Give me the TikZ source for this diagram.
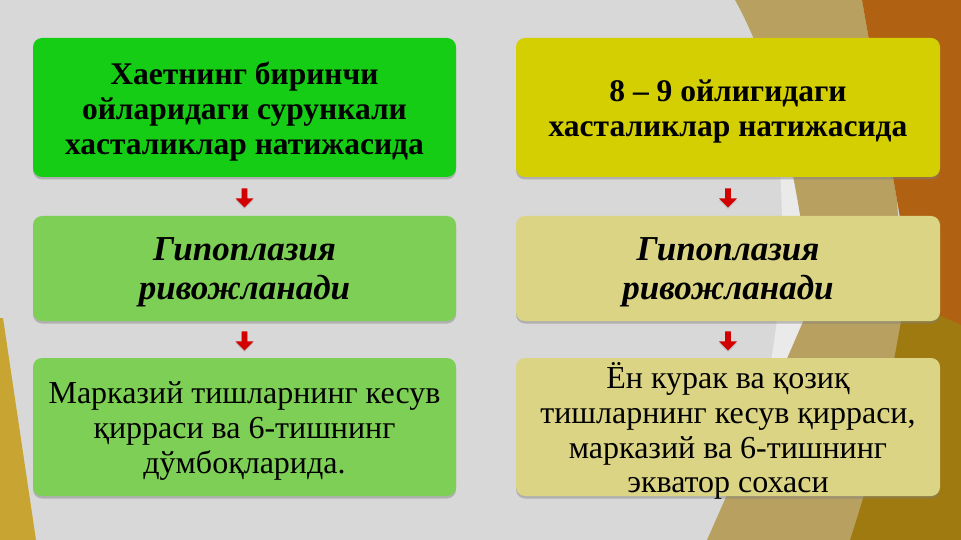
\documentclass[tikz,border=0pt]{standalone}
\usepackage{fontspec}
\setmainfont{Liberation Serif}
\usetikzlibrary{shadows,shapes.arrows,calc}
\definecolor{bgc}{RGB}{216,216,216}
\definecolor{greenA}{RGB}{22,205,22}
\definecolor{greenB}{RGB}{126,207,86}
\definecolor{yelA}{RGB}{212,207,2}
\definecolor{yelB}{RGB}{218,212,132}
\definecolor{tanc}{RGB}{184,160,96}
\definecolor{orangec}{RGB}{176,98,18}
\definecolor{goldc}{RGB}{158,122,16}
\definecolor{leftgold}{RGB}{200,164,50}
\definecolor{arrred}{RGB}{210,0,0}
\tikzset{
  box/.style={rounded corners=9pt, inner sep=0pt,
    drop shadow={shadow xshift=0pt, shadow yshift=-2.5pt, opacity=0.45}},
  lbl/.style={inner sep=0pt, align=center, text=black, yshift=-4pt},
  toptext/.style={font=\fontsize{31.5}{34.8}\selectfont\bfseries},
  midtext/.style={font=\fontsize{35}{39.5}\selectfont\bfseries\itshape},
  bottext/.style={font=\fontsize{32}{34.8}\selectfont},
  redarrow/.style={single arrow, fill=arrred, draw=none, rotate=-90,
    minimum height=19pt, minimum width=18pt, single arrow head extend=4.5pt,
    single arrow head indent=0pt, inner sep=2pt,
    drop shadow={shadow xshift=0pt, shadow yshift=-1.5pt, opacity=0.35}}
}
\begin{document}
\begin{tikzpicture}[x=1pt,y=-1pt]
\path[use as bounding box] (0,0) rectangle (961,540);
\fill[bgc] (0,0) rectangle (961,540);
% right decoration
\fill[white!45!bgc] (760,0) -- (800,0) .. controls (840,200) and (860,330) .. (800,540) -- (720,540) .. controls (800,330) and (790,200) .. (760,0) -- cycle;
\fill[tanc] (735,0) -- (862,0) -- (897,200) -- (905,330) -- (880,540) -- (707,540)
  .. controls (760,420) and (800,330) .. (812,300)
  .. controls (800,200) and (780,80) .. (735,0) -- cycle;
\fill[orangec] (862,0) -- (961,0) -- (961,330) -- (915,305) -- (897,200) -- cycle;
\fill[goldc] (905,300) -- (961,325) -- (961,540) -- (850,540) .. controls (880,450) and (890,380) .. (905,300) -- cycle;
% left decoration
\fill[leftgold] (0,318) -- (3,318) -- (36,540) -- (0,540) -- cycle;
% boxes
\node[box, fill=greenA, minimum width=423pt, minimum height=139pt] (l1) at (244.5,107.5) {};
\node[box, fill=greenB, minimum width=423pt, minimum height=105pt] (l2) at (244.5,268.5) {};
\node[box, fill=greenB, minimum width=423pt, minimum height=138pt] (l3) at (244.5,427) {};
\node[box, fill=yelA, minimum width=424pt, minimum height=139pt] (r1) at (728,107.5) {};
\node[box, fill=yelB, minimum width=424pt, minimum height=105pt] (r2) at (728,268.5) {};
\node[box, fill=yelB, minimum width=424pt, minimum height=138pt] (r3) at (728,427) {};
% texts
\node[lbl, toptext] (tl1) at (l1.center) {Хаетнинг биринчи\\ойларидаги сурункали\\хасталиклар натижасида};
\node[lbl, midtext] (tl2) at (l2.center) {Гипоплазия\\ривожланади};
\node[lbl, bottext] (tl3) at (l3.center) {Марказий тишларнинг кесув\\қирраси ва 6-тишнинг\\дўмбоқларида.};
\node[lbl, toptext] (tr1) at (r1.center) {8 – 9 ойлигидаги\\хасталиклар натижасида};
\node[lbl, midtext] (tr2) at (r2.center) {Гипоплазия\\ривожланади};
\node[lbl, bottext] (tr3) at (r3.center) {Ён курак ва қозиқ\\тишларнинг кесув қирраси,\\марказий ва 6-тишнинг\\экватор сохаси};
% arrows
\node[redarrow] (al1) at ($(l1.south)!0.5!(l2.north)$) {};
\node[redarrow] (al2) at ($(l2.south)!0.5!(l3.north)$) {};
\node[redarrow] (ar1) at ($(r1.south)!0.5!(r2.north)$) {};
\node[redarrow] (ar2) at ($(r2.south)!0.5!(r3.north)$) {};
\end{tikzpicture}
\end{document}
